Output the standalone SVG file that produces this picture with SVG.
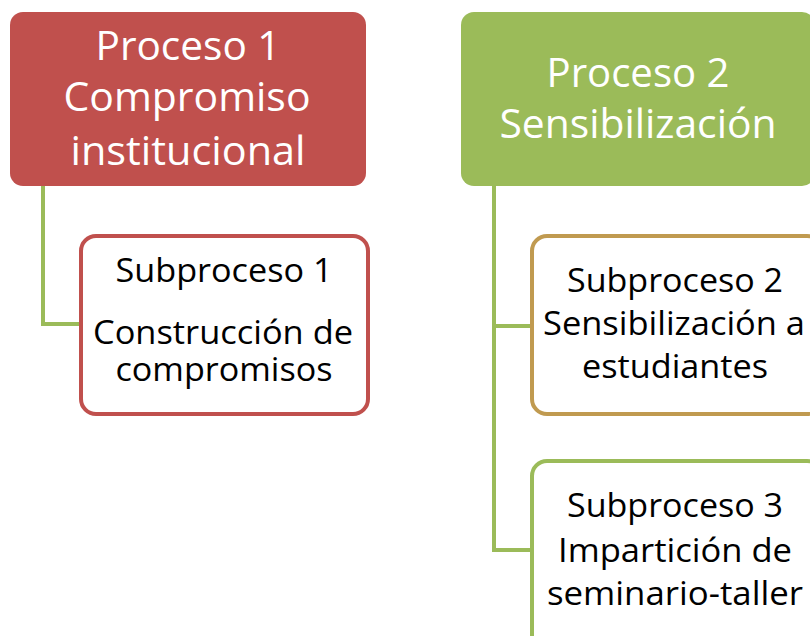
<svg xmlns="http://www.w3.org/2000/svg" width="810" height="636" viewBox="0 0 810 636">
<style>
.t{font-family:"Open Sans","Noto Sans","DejaVu Sans",sans-serif;text-anchor:middle}
.h{font-size:41px;fill:#ffffff}
.s{font-size:32px;fill:#000000}
.conn{fill:none;stroke:#9BBB59;stroke-width:4}
</style>
<rect width="810" height="636" fill="#ffffff"/>
<g id="connectors">
<path class="conn" d="M43,186 V324 H81"/>
<path class="conn" d="M494,186 V550 H532 M494,326 H532"/>
</g>
<g id="proceso1">
<rect x="10" y="12" width="356" height="174" rx="13" fill="#C0504D"/>
<text class="t h" x="188" y="60" textLength="185" lengthAdjust="spacingAndGlyphs">Proceso 1</text>
<text class="t h" x="187" y="111" textLength="247" lengthAdjust="spacingAndGlyphs">Compromiso</text>
<text class="t h" x="188" y="165" textLength="235" lengthAdjust="spacingAndGlyphs">institucional</text>
</g>
<g id="proceso2">
<rect x="461" y="12" width="354" height="174" rx="13" fill="#9BBB59"/>
<text class="t h" x="638" y="87" textLength="183" lengthAdjust="spacingAndGlyphs">Proceso 2</text>
<text class="t h" x="638" y="138" textLength="277" lengthAdjust="spacingAndGlyphs">Sensibilización</text>
</g>
<g id="subproceso1">
<rect x="81" y="236" width="287" height="178" rx="15" fill="#ffffff" stroke="#C0504D" stroke-width="4"/>
<text class="t s" x="224" y="282" textLength="217" lengthAdjust="spacingAndGlyphs">Subproceso 1</text>
<text class="t s" x="223" y="344" textLength="260" lengthAdjust="spacingAndGlyphs">Construcción de</text>
<text class="t s" x="224" y="381" textLength="217" lengthAdjust="spacingAndGlyphs">compromisos</text>
</g>
<g id="subproceso2">
<rect x="532" y="236" width="290" height="178" rx="15" fill="#ffffff" stroke="#C09A50" stroke-width="4"/>
<text class="t s" x="675" y="292" textLength="216" lengthAdjust="spacingAndGlyphs">Subproceso 2</text>
<text class="t s" x="674" y="335" textLength="262" lengthAdjust="spacingAndGlyphs">Sensibilización a</text>
<text class="t s" x="675" y="378" textLength="186" lengthAdjust="spacingAndGlyphs">estudiantes</text>
</g>
<g id="subproceso3">
<rect x="532" y="461" width="290" height="190" rx="15" fill="#ffffff" stroke="#9BBB59" stroke-width="4"/>
<text class="t s" x="675" y="517" textLength="216" lengthAdjust="spacingAndGlyphs">Subproceso 3</text>
<text class="t s" x="675" y="562" textLength="234" lengthAdjust="spacingAndGlyphs">Impartición de</text>
<text class="t s" x="675" y="605" textLength="256" lengthAdjust="spacingAndGlyphs">seminario-taller</text>
</g>
</svg>
